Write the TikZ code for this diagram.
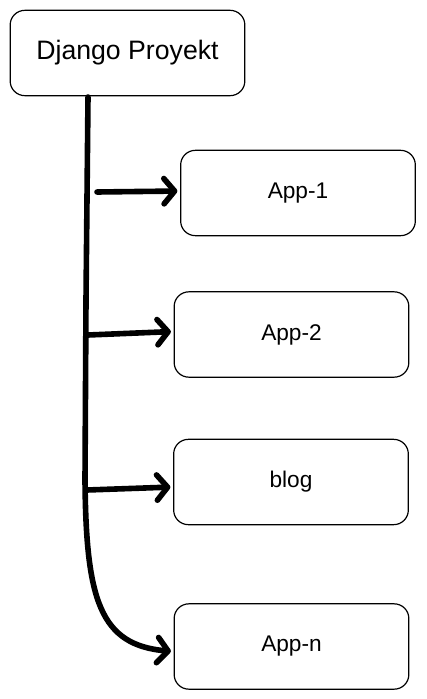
\documentclass[tikz,border=0pt]{standalone}
\usepackage{fontspec}
\setmainfont{Liberation Sans}
\usetikzlibrary{arrows.meta,calc}

\begin{document}
\begin{tikzpicture}[x=0.75pt,y=0.75pt,yscale=-1,xscale=1]
\useasboundingbox (0,0) rectangle (426,699);
\tikzset{
  box/.style={draw, line width=0.9pt, rounded corners=11pt, minimum width=176pt, minimum height=64pt, inner sep=0pt, fill=white},
  applabel/.style={font=\fontsize{17}{20}\selectfont},
  trunk/.style={line width=4.2pt, line cap=round, line join=round},
  branch/.style={trunk, -{Straight Barb[length=8pt,width=19pt,round]}, shorten >=2pt}
}

% Boxes
\node[box, font=\fontsize{20}{24}\selectfont] (proj) at (127.5,53) {Django Proyekt};
\node[box, applabel] (app1) at (298,193) {App-1};
\node[box, applabel] (app2) at (291.5,334.5) {App-2};
\node[box, applabel] (blog) at (291,482) {blog};
\node[box, applabel] (appn) at (291.5,646.5) {App-n};

% Trunk points
\coordinate (t0) at (88,97);
\coordinate (t1) at (97,192);
\coordinate (t2) at (88,335);
\coordinate (t3) at (87,490);

% Trunk
\draw[branch] (t0) -- (86,300) -- (85,480) .. controls (86,600) and (100,645) .. ($(appn.west)+(0,5)$);
% Branches
\draw[branch] (t1) -- ($(app1.west)+(0,-2)$);
\draw[branch] (t2) -- ($(app2.west)+(0,-3)$);
\draw[branch] (t3) -- ($(blog.west)+(0,5)$);

\end{tikzpicture}
\end{document}
